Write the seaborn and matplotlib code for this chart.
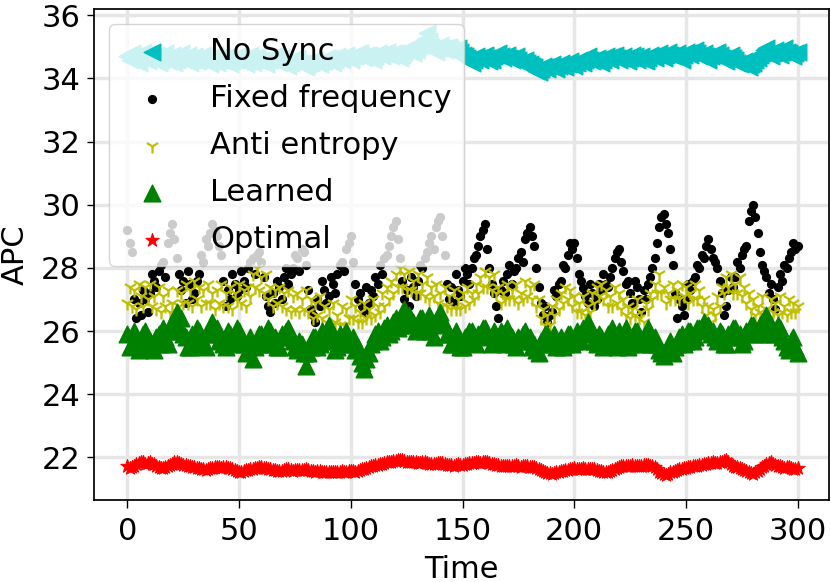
import matplotlib
matplotlib.use("Agg")
import matplotlib.pyplot as plt
import seaborn as sns

# one sample per time step, 0..300
time = list(range(0, 301))

no_sync = [
    34.7, 34.6, 34.8, 34.7, 34.6, 34.5, 34.75, 34.85, 34.65, 34.55,
    34.8, 34.7, 34.6, 34.75, 34.5, 34.6, 34.7, 34.8, 34.55, 34.65,
    34.75, 34.5, 34.6, 34.7, 34.8, 34.6, 34.65, 34.75, 34.5, 34.6,
    34.7, 34.55, 34.6, 34.7, 34.75, 34.6, 34.55, 34.45, 34.65, 34.75,
    34.5, 34.6, 34.7, 34.55, 34.6, 34.7, 34.45, 34.55, 34.6, 34.7,
    34.75, 34.6, 34.55, 34.45, 34.65, 34.75, 34.5, 34.6, 34.7, 34.55,
    34.6, 34.5, 34.45, 34.6, 34.6, 34.7, 34.7, 34.55, 34.5, 34.65,
    34.6, 34.45, 34.4, 34.5, 34.55, 34.65, 34.65, 34.5, 34.5, 34.4,
    34.35, 34.45, 34.5, 34.6, 34.6, 34.5, 34.45, 34.55, 34.55, 34.65,
    34.65, 34.55, 34.5, 34.6, 34.7, 34.65, 34.6, 34.7, 34.75, 34.65,
    34.6, 34.7, 34.7, 34.8, 34.8, 34.7, 34.65, 34.75, 34.75, 34.65,
    34.6, 34.7, 34.8, 34.75, 34.7, 34.8, 34.85, 34.75, 34.7, 34.8,
    34.8, 34.7, 34.65, 34.75, 34.85, 34.9, 34.95, 34.85, 34.8, 34.9,
    35.0, 35.05, 35.1, 35.25, 35.45, 35.2, 35.0, 34.9, 34.85, 34.95,
    35.05, 34.95, 34.9, 35.0, 35.0, 34.9, 34.8, 34.85, 34.95, 34.85,
    34.75, 34.7, 34.65, 34.55, 34.5, 34.6, 34.7, 34.65, 34.6, 34.7,
    34.75, 34.65, 34.55, 34.6, 34.7, 34.75, 34.8, 34.7, 34.65, 34.7,
    34.75, 34.65, 34.6, 34.65, 34.7, 34.6, 34.5, 34.55, 34.6, 34.5,
    34.45, 34.4, 34.35, 34.25, 34.2, 34.3, 34.4, 34.35, 34.3, 34.4,
    34.45, 34.35, 34.3, 34.4, 34.5, 34.4, 34.35, 34.45, 34.55, 34.45,
    34.4, 34.5, 34.6, 34.55, 34.5, 34.6, 34.7, 34.6, 34.55, 34.6,
    34.65, 34.55, 34.5, 34.6, 34.7, 34.65, 34.6, 34.7, 34.75, 34.65,
    34.6, 34.65, 34.7, 34.6, 34.55, 34.65, 34.75, 34.7, 34.6, 34.65,
    34.7, 34.6, 34.55, 34.65, 34.75, 34.7, 34.65, 34.75, 34.8, 34.7,
    34.65, 34.75, 34.85, 34.75, 34.7, 34.75, 34.8, 34.7, 34.6, 34.75,
    34.85, 34.8, 34.75, 34.85, 34.9, 34.8, 34.7, 34.75, 34.8, 34.7,
    34.6, 34.7, 34.75, 34.8, 34.85, 34.75, 34.65, 34.6, 34.55, 34.65,
    34.75, 34.65, 34.6, 34.5, 34.45, 34.5, 34.55, 34.45, 34.35, 34.45,
    34.5, 34.6, 34.65, 34.75, 34.8, 34.9, 34.95, 34.8, 34.7, 34.8,
    34.9, 34.8, 34.75, 34.85, 34.95, 34.85, 34.8, 34.75, 34.7, 34.8,
    34.85,
]

fixed_freq = [
    29.2, 28.8, 28.5, 27.0, 26.4, 26.9, 26.5, 27.3, 27.0, 26.6,
    27.2, 27.8, 27.6, 27.4, 27.9, 28.1, 28.2, 27.7, 28.8, 29.1,
    29.4, 28.9, 28.3, 27.8, 27.3, 27.6, 26.9, 27.9, 27.5, 27.0,
    27.2, 27.6, 27.8, 28.4, 28.2, 28.9, 28.7, 29.1, 29.4, 29.2,
    29.0, 28.7, 28.4, 27.6, 26.8, 27.3, 27.0, 27.8, 27.5, 27.1,
    27.3, 27.9, 27.6, 27.4, 28.0, 28.2, 28.3, 27.8, 28.4, 28.5,
    28.2, 27.7, 27.1, 26.8, 26.6, 27.2, 26.9, 27.6, 27.4, 27.0,
    27.7, 28.0, 27.5, 27.8, 28.0, 28.4, 28.3, 27.9, 28.6, 28.5,
    28.1, 27.3, 26.7, 26.5, 26.3, 27.0, 26.8, 27.6, 27.3, 26.9,
    27.1, 27.7, 27.5, 27.2, 27.8, 28.1, 28.2, 27.9, 28.6, 28.8,
    29.0, 28.2, 27.5, 27.0, 27.2, 26.8, 26.6, 27.4, 26.9, 27.3,
    27.1, 27.7, 27.5, 28.1, 27.8, 28.3, 28.4, 28.7, 29.0, 29.3,
    29.5, 28.9, 28.3, 27.6, 27.0, 27.3, 26.8, 27.7, 27.4, 27.1,
    27.6, 28.1, 28.0, 28.3, 28.5, 28.8, 29.0, 28.6, 29.3, 29.5,
    29.6, 29.0, 28.4, 27.5, 27.0, 27.4, 26.9, 27.8, 27.3, 27.1,
    27.6, 28.0, 27.8, 27.5, 28.0, 28.3, 28.4, 28.7, 29.0, 29.2,
    29.4, 28.6, 28.0, 27.5, 27.2, 26.8, 26.4, 27.3, 27.6, 27.2,
    27.8, 28.1, 27.5, 27.9, 28.0, 28.3, 28.5, 28.2, 28.9, 29.1,
    29.3, 29.0, 28.7, 28.0, 27.4, 26.9, 26.5, 26.8, 26.3, 26.5,
    26.6, 27.3, 27.1, 27.5, 27.6, 28.1, 28.0, 28.4, 28.8, 28.6,
    28.8, 28.3, 27.8, 27.6, 27.35, 27.1, 26.9, 27.5, 27.2, 26.8,
    27.0, 27.5, 27.3, 27.8, 27.5, 27.4, 27.7, 28.0, 28.3, 28.5,
    28.6, 28.2, 27.9, 27.5, 27.6, 27.2, 26.9, 27.6, 27.4, 27.0,
    26.6, 27.3, 27.0, 27.5, 27.7, 28.0, 28.3, 28.8, 29.3, 29.6,
    29.7, 29.4, 29.1, 28.6, 28.1, 27.2, 26.4, 27.0, 26.8, 26.5,
    27.0, 27.5, 27.3, 27.6, 27.7, 28.1, 28.0, 28.4, 28.3, 28.7,
    28.9, 28.6, 28.3, 28.2, 28.0, 27.6, 27.2, 26.5, 26.8, 27.3,
    27.7, 27.4, 27.7, 28.2, 28.0, 28.4, 28.6, 28.7, 29.5, 29.8,
    30.0, 29.6, 29.1, 28.5, 28.1, 27.9, 27.7, 27.2, 27.5, 27.0,
    26.7, 27.4, 27.8, 27.6, 28.1, 28.0, 28.3, 28.5, 28.8, 28.6,
    28.7,
]

anti_entropy = [
    26.9, 27.4, 26.8, 27.3, 26.7, 27.5, 27.1, 26.8, 27.4, 27.0,
    27.5, 26.8, 27.1, 26.7, 27.4, 26.6, 27.1, 26.8, 27.3, 26.6,
    26.9, 26.5, 27.3, 26.8, 27.2, 26.9, 27.5, 26.9, 27.3, 26.8,
    27.6, 27.0, 27.4, 26.8, 27.3, 26.9, 27.5, 26.9, 27.2, 26.7,
    27.3, 26.9, 27.5, 26.8, 27.2, 26.8, 27.4, 26.7, 27.2, 27.0,
    27.5, 26.9, 27.3, 26.8, 27.4, 27.1, 27.8, 27.4, 28.0, 27.3,
    27.7, 27.2, 27.8, 27.0, 27.4, 26.8, 27.3, 26.9, 27.4, 26.8,
    27.2, 26.7, 27.3, 26.6, 27.1, 26.7, 27.2, 26.6, 27.0, 26.7,
    27.3, 26.6, 27.0, 26.4, 26.9, 26.5, 27.1, 26.4, 26.8, 26.3,
    26.7, 26.2, 26.9, 26.3, 26.5, 26.2, 26.8, 26.2, 26.7, 26.4,
    27.0, 26.4, 26.8, 26.3, 26.6, 26.3, 26.9, 26.4, 26.7, 26.4,
    27.0, 26.5, 26.8, 26.6, 27.2, 26.8, 27.4, 27.0, 27.6, 27.2,
    27.8, 27.4, 28.0, 27.4, 27.8, 27.3, 27.9, 27.3, 27.6, 27.2,
    27.8, 27.2, 27.5, 27.1, 27.7, 27.0, 27.4, 27.1, 27.5, 26.9,
    27.2, 26.8, 27.4, 26.8, 27.1, 26.7, 27.3, 26.7, 27.0, 26.7,
    27.2, 26.8, 27.4, 26.9, 27.2, 27.0, 27.5, 27.2, 27.7, 27.4,
    27.9, 27.4, 27.7, 27.3, 27.8, 27.2, 27.4, 26.9, 27.2, 27.0,
    27.5, 27.0, 27.3, 27.0, 27.5, 26.9, 27.2, 27.0, 27.6, 27.1,
    27.4, 27.0, 27.5, 26.8, 27.0, 26.4, 26.7, 26.2, 26.5, 26.2,
    26.8, 26.5, 27.0, 26.7, 27.2, 26.9, 27.4, 27.0, 27.3, 26.8,
    27.1, 26.6, 26.9, 26.6, 27.1, 26.5, 26.8, 26.6, 27.2, 26.9,
    27.4, 27.1, 27.5, 27.0, 27.3, 26.8, 27.1, 26.8, 27.4, 26.9,
    27.2, 26.7, 27.0, 26.5, 26.8, 26.4, 26.7, 26.5, 27.0, 26.4,
    26.6, 26.3, 26.9, 26.7, 27.2, 27.0, 27.5, 27.2, 27.8, 27.2,
    27.4, 26.9, 27.2, 27.0, 27.5, 27.0, 27.3, 27.0, 27.5, 27.1,
    27.4, 26.9, 27.2, 27.0, 27.5, 27.0, 27.3, 26.8, 27.0, 26.5,
    26.8, 26.3, 26.7, 26.5, 27.1, 26.8, 27.4, 27.2, 27.7, 27.4,
    27.8, 27.2, 27.5, 27.2, 27.7, 27.1, 27.4, 26.9, 27.2, 26.7,
    27.0, 26.5, 26.8, 26.6, 27.1, 26.5, 26.7, 26.4, 27.0, 26.6,
    26.9, 26.5, 27.1, 26.6, 26.8, 26.5, 27.0, 26.6, 26.9, 26.6,
    26.8,
]

learned = [
    25.9, 25.5, 25.6, 26.0, 25.8, 25.4, 25.5, 25.9, 26.0, 25.6,
    25.7, 25.5, 25.4, 25.8, 25.9, 25.6, 26.1, 25.8, 25.6, 26.0,
    26.3, 26.0, 26.6, 26.2, 26.4, 25.9, 25.8, 25.5, 25.5, 25.9,
    25.7, 26.1, 26.0, 25.7, 25.6, 25.5, 25.9, 26.1, 26.3, 25.9,
    26.1, 25.7, 25.8, 25.6, 25.5, 26.0, 25.9, 25.6, 25.7, 26.1,
    26.0, 25.7, 25.6, 25.3, 25.4, 25.8, 25.1, 25.5, 25.6, 25.9,
    25.9, 25.6, 25.7, 26.1, 26.0, 25.6, 25.8, 25.5, 25.5, 25.9,
    25.8, 26.0, 26.1, 25.8, 25.7, 25.5, 25.4, 25.7, 25.6, 25.3,
    24.9, 25.3, 25.5, 25.8, 25.8, 25.5, 25.6, 26.0, 25.9, 25.7,
    26.2, 25.9, 25.7, 25.4, 25.5, 25.9, 25.8, 25.6, 26.0, 25.7,
    25.6, 25.8, 25.4, 25.5, 25.2, 25.0, 24.8, 25.1, 25.3, 25.6,
    25.7, 25.9, 26.0, 25.7, 25.8, 26.1, 26.2, 25.9, 26.0, 26.3,
    26.4, 26.1, 26.2, 26.5, 26.7, 26.3, 26.5, 26.2, 26.3, 26.0,
    26.1, 26.4, 26.4, 26.0, 26.2, 26.5, 26.0, 25.8, 26.3, 26.4,
    26.6, 26.3, 26.2, 25.9, 25.9, 25.6, 25.6, 26.0, 25.8, 25.5,
    25.5, 25.8, 25.7, 26.0, 26.0, 25.7, 25.6, 25.9, 25.9, 26.1,
    26.1, 25.9, 25.8, 25.6, 26.0, 25.8, 25.7, 26.0, 25.9, 25.6,
    26.1, 25.9, 25.8, 25.6, 25.5, 25.8, 25.7, 25.9, 26.0, 25.7,
    25.8, 25.5, 25.6, 25.4, 25.3, 25.7, 25.6, 25.9, 25.9, 25.6,
    25.7, 25.9, 25.5, 25.6, 25.8, 25.5, 25.6, 25.9, 25.9, 25.6,
    25.7, 26.0, 25.9, 25.7, 26.1, 26.0, 26.3, 26.1, 25.9, 25.7,
    25.6, 25.9, 25.8, 25.5, 25.6, 25.9, 25.9, 26.1, 25.7, 25.5,
    26.0, 25.7, 25.8, 26.1, 25.5, 25.6, 25.8, 26.0, 26.0, 25.8,
    25.7, 25.6, 25.9, 26.1, 25.6, 25.8, 25.8, 25.6, 25.4, 25.3,
    25.2, 25.4, 25.5, 25.7, 25.3, 25.5, 25.6, 25.8, 25.9, 25.6,
    25.7, 26.0, 26.0, 25.7, 25.8, 26.1, 26.1, 26.0, 26.3, 26.1,
    26.2, 25.9, 26.0, 25.8, 25.7, 26.0, 25.9, 25.6, 25.6, 25.9,
    25.8, 26.1, 26.1, 25.8, 25.9, 25.6, 25.7, 26.0, 26.0, 26.2,
    26.2, 25.9, 25.9, 26.2, 26.3, 26.0, 26.5, 26.3, 26.2, 25.9,
    25.9, 26.2, 26.1, 25.8, 25.7, 25.5, 25.4, 25.7, 25.8, 25.5,
    25.3,
]

optimal = [
    21.72, 21.66, 21.68, 21.74, 21.78, 21.82, 21.84, 21.86, 21.80, 21.83,
    21.85, 21.80, 21.79, 21.74, 21.70, 21.67, 21.66, 21.70, 21.72, 21.77,
    21.80, 21.84, 21.86, 21.82, 21.80, 21.77, 21.76, 21.73, 21.72, 21.68,
    21.70, 21.67, 21.66, 21.63, 21.64, 21.60, 21.62, 21.65, 21.66, 21.69,
    21.70, 21.68, 21.66, 21.69, 21.70, 21.66, 21.67, 21.63, 21.60, 21.57,
    21.55, 21.54, 21.56, 21.59, 21.60, 21.62, 21.63, 21.65, 21.66, 21.68,
    21.69, 21.67, 21.66, 21.63, 21.62, 21.61, 21.60, 21.57, 21.56, 21.58,
    21.60, 21.63, 21.62, 21.60, 21.58, 21.59, 21.61, 21.60, 21.59, 21.61,
    21.62, 21.60, 21.58, 21.56, 21.55, 21.56, 21.57, 21.55, 21.54, 21.53,
    21.52, 21.54, 21.55, 21.53, 21.52, 21.54, 21.56, 21.55, 21.54, 21.56,
    21.57, 21.56, 21.55, 21.58, 21.60, 21.62, 21.64, 21.67, 21.70, 21.72,
    21.74, 21.75, 21.76, 21.78, 21.80, 21.82, 21.84, 21.85, 21.86, 21.87,
    21.88, 21.90, 21.91, 21.90, 21.88, 21.86, 21.84, 21.85, 21.86, 21.84,
    21.82, 21.83, 21.85, 21.84, 21.82, 21.80, 21.78, 21.79, 21.80, 21.82,
    21.83, 21.81, 21.79, 21.77, 21.76, 21.75, 21.74, 21.76, 21.78, 21.77,
    21.76, 21.78, 21.80, 21.81, 21.82, 21.83, 21.84, 21.84, 21.83, 21.85,
    21.86, 21.84, 21.82, 21.80, 21.78, 21.76, 21.75, 21.73, 21.72, 21.73,
    21.74, 21.73, 21.72, 21.74, 21.75, 21.72, 21.70, 21.72, 21.73, 21.71,
    21.70, 21.69, 21.68, 21.65, 21.62, 21.59, 21.56, 21.53, 21.50, 21.49,
    21.48, 21.50, 21.52, 21.54, 21.56, 21.58, 21.60, 21.61, 21.62, 21.64,
    21.65, 21.63, 21.62, 21.64, 21.66, 21.64, 21.62, 21.63, 21.64, 21.62,
    21.60, 21.58, 21.56, 21.54, 21.53, 21.55, 21.58, 21.61, 21.64, 21.67,
    21.70, 21.72, 21.74, 21.73, 21.72, 21.74, 21.75, 21.74, 21.72, 21.73,
    21.74, 21.75, 21.76, 21.75, 21.73, 21.72, 21.70, 21.62, 21.55, 21.50,
    21.46, 21.45, 21.48, 21.52, 21.55, 21.58, 21.60, 21.62, 21.64, 21.65,
    21.66, 21.68, 21.70, 21.71, 21.72, 21.74, 21.76, 21.77, 21.78, 21.80,
    21.82, 21.83, 21.84, 21.83, 21.82, 21.84, 21.86, 21.88, 21.90, 21.84,
    21.78, 21.74, 21.70, 21.68, 21.66, 21.63, 21.60, 21.57, 21.54, 21.51,
    21.48, 21.52, 21.56, 21.62, 21.68, 21.74, 21.80, 21.82, 21.84, 21.80,
    21.76, 21.74, 21.72, 21.69, 21.66, 21.68, 21.70, 21.66, 21.62, 21.64,
    21.66,
]

sns.set_theme(style="whitegrid")
plt.rcParams.update({
    "font.family": ["DejaVu Sans"],
    "font.size": 22,
    "axes.labelsize": 22,
    "xtick.labelsize": 22,
    "ytick.labelsize": 22,
    "legend.fontsize": 22,
    "axes.edgecolor": "black",
    "axes.linewidth": 1.25,
    "grid.color": "#e6e6e6",
    "grid.linewidth": 2.5,
    "xtick.bottom": True,
    "ytick.left": True,
    "xtick.major.size": 5.5,
    "ytick.major.size": 5,
    "xtick.major.width": 1,
    "ytick.major.width": 1,
    "xtick.major.pad": 7,
    "ytick.major.pad": 5,
    "xtick.color": "black",
    "ytick.color": "black",
    "axes.labelcolor": "black",
    "text.color": "black",
})

fig, ax = plt.subplots(figsize=(8.31, 5.82), dpi=100)
fig.subplots_adjust(left=0.113, right=0.9976, top=0.9845, bottom=0.141)

sns.scatterplot(x=time, y=no_sync, marker="<", s=144, color="#00bfbf",
                edgecolor="#00bfbf", linewidth=1, label="No Sync", ax=ax)
sns.scatterplot(x=time, y=fixed_freq, marker="o", s=44, color="black",
                linewidth=0, label="Fixed frequency", ax=ax)
sns.scatterplot(x=time, y=anti_entropy, marker="1", s=100, color="#bfbf00",
                linewidth=1.6, label="Anti entropy", ax=ax)
sns.scatterplot(x=time, y=learned, marker="^", s=144, color="#008000",
                edgecolor="#008000", linewidth=1, label="Learned", ax=ax)
sns.scatterplot(x=time, y=optimal, marker="*", s=100, color="#ff0000",
                edgecolor="#ff0000", linewidth=0.8, label="Optimal", ax=ax)

ax.set_xlim(-15, 314)
ax.set_ylim(20.65, 36.2)
ax.set_xticks([0, 50, 100, 150, 200, 250, 300])
ax.set_yticks([22, 24, 26, 28, 30, 32, 34, 36])
ax.set_xlabel("Time", labelpad=6)
ax.set_ylabel("APC", labelpad=8)
ax.legend(loc="upper left", labelspacing=0.59, handletextpad=0.9)

fig.savefig("out.png", dpi=100)
